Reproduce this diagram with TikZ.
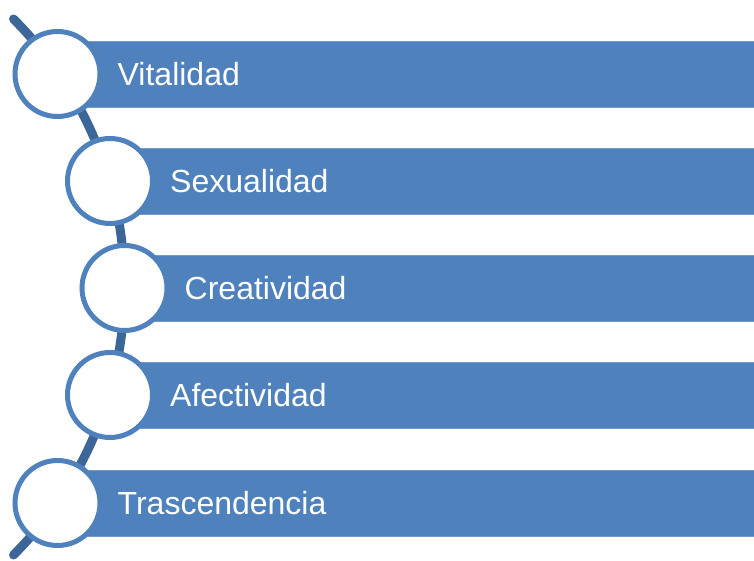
\documentclass[tikz,border=0pt]{standalone}
\usepackage{fontspec}
\setmainfont{Liberation Sans}
\definecolor{barblue}{HTML}{4F81BD}
\definecolor{linkblue}{HTML}{3D6698}
\tikzset{
  bar/.style={fill=barblue, draw=barblue!80!white, anchor=west, minimum height=66pt,
              inner xsep=60pt, inner ysep=0pt, align=left, text=white,
              font=\fontsize{32}{37}\selectfont},
  ring/.style={circle, draw=barblue, fill=white, line width=5pt, minimum size=85pt, inner sep=0pt}
}
\begin{document}
\begin{tikzpicture}[x=1pt,y=1pt]
\useasboundingbox (0,0) rectangle (754,561);

% the arc behind the rings
\draw[linkblue, line width=9pt, line cap=round] (-254.5,274) ++(45:379pt) arc (45:-45:379pt);

\foreach \cx/\cy/\txt [count=\i] in {57.5/487/Vitalidad, 110/380/Sexualidad,
    124.5/273/Creatividad, 110/166/Afectividad, 57.5/58/Trascendencia} {
    \pgfmathsetmacro\w{754-\cx-120}
    \node[bar, text width=\w pt] (b\i) at (\cx,\cy) {\txt};
    \node[ring] (c\i) at (\cx,\cy) {};
}

\end{tikzpicture}
\end{document}
